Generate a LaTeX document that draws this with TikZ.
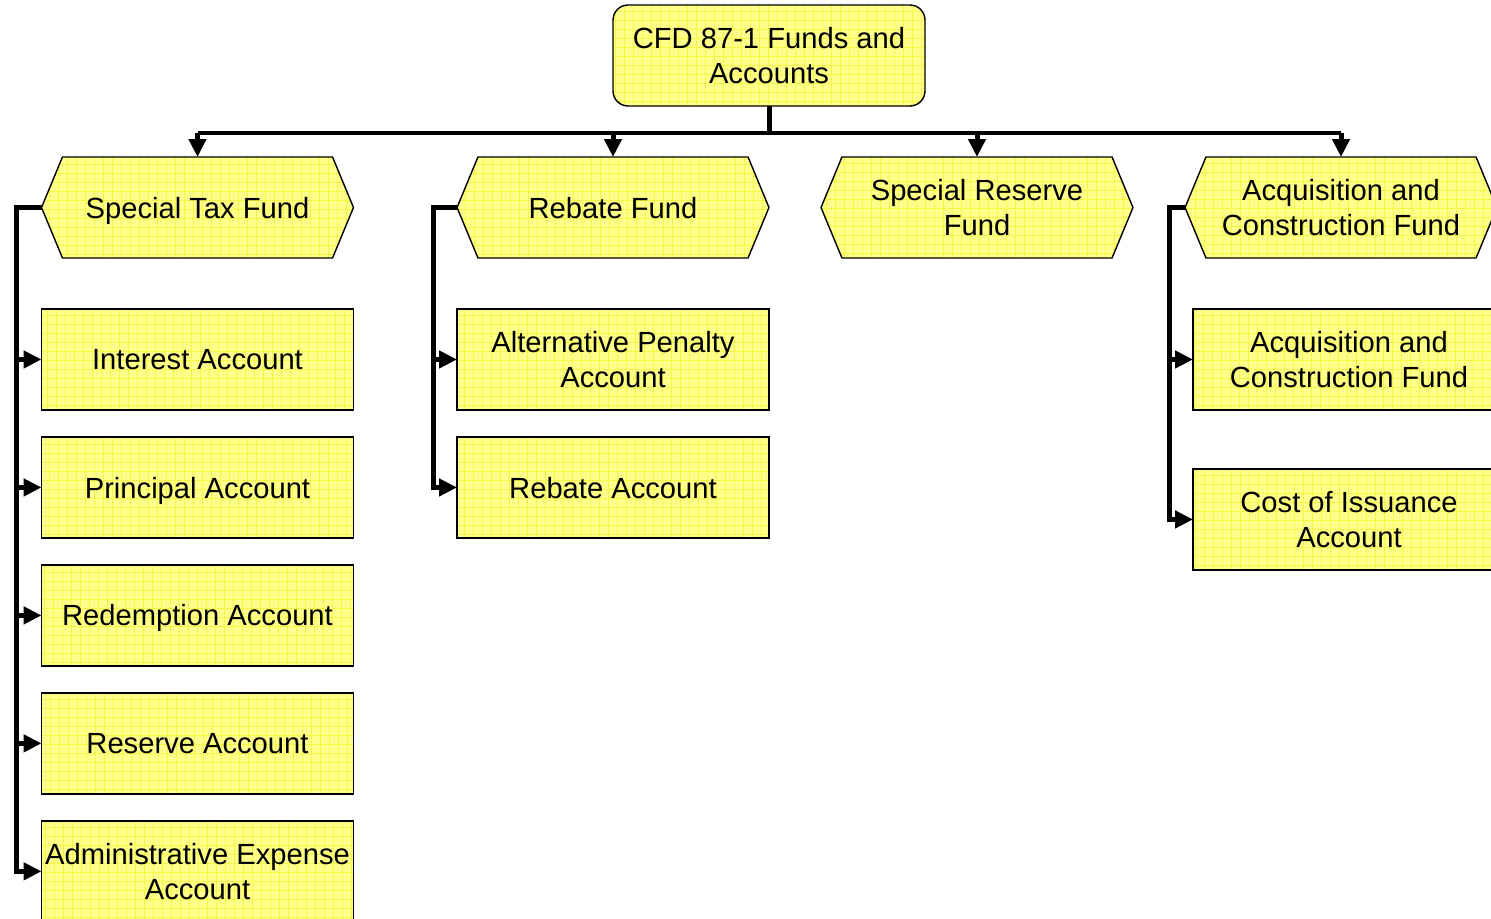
\documentclass[tikz,border=0pt]{standalone}
\usepackage{fontspec}
\setmainfont{Liberation Sans}
\usetikzlibrary{positioning,shapes.symbols,arrows.meta}
\definecolor{boxfill}{RGB}{255,255,140}
\definecolor{boxgrid}{RGB}{246,246,70}

\begin{document}
\begin{tikzpicture}[x=0.02cm, y=-0.02cm, >={Triangle[length=0.36cm,width=0.34cm]}, node distance=0.54cm]
				\tikzstyle{gridfill} = [fill=boxfill, path picture={\draw[boxgrid, line width=0.25pt] (path picture bounding box.south west) grid[step=0.18cm] (path picture bounding box.north east);}]
				\tikzstyle{box} = [draw, line width=0.8pt, gridfill, minimum width=6.24cm, minimum height=2.02cm, inner sep=1pt, outer sep=0pt, align=center, font=\fontsize{16.6}{19.9}\selectfont]
				\tikzstyle{root} = [box, rounded corners=0.3cm]
				\tikzstyle{fund} = [box, signal, signal to=east and west, signal pointer angle=135]
				\tikzstyle{account} = [box, rectangle]
				\tikzstyle{flat} = [text depth=0pt]
				\tikzstyle{link} = [line width=0.1cm]
				\path[use as bounding box, clip] (0,0) rectangle (1491,919);
				% top level
				\node[root] (root) at (769,55.5) {CFD 87-1 Funds and\\Accounts};
				\coordinate (bus) at (769,133);
				% funds
				\node[fund, flat] (stf) at (197.5,207.5) {Special Tax Fund};
				\node[fund, flat] (rf) at (613,207.5) {Rebate Fund};
				\node[fund] (srf) at (977,207.5) {Special Reserve\\Fund};
				\node[fund] (acf) at (1341,207.5) {Acquisition and\\Construction Fund};
				% accounts
				\node[account, flat, below=1.02cm of stf] (ia) {Interest Account};
				\node[account, flat, below=of ia] (pa) {Principal Account};
				\node[account, flat, below=of pa] (ra) {Redemption Account};
				\node[account, flat, below=of ra] (rsa) {Reserve Account};
				\node[account, below=of rsa] (aea) {Administrative Expense\\Account};
				\node[account, below=1.02cm of rf] (apa) {Alternative Penalty\\Account};
				\node[account, flat, below=of apa] (rba) {Rebate Account};
				\node[account, below=1.02cm of acf, xshift=0.16cm] (acq) {Acquisition and\\Construction Fund};
				\node[account, below=1.18cm of acq] (coi) {Cost of Issuance\\Account};
				% connectors
				\draw[link] (root.south) -- (bus);
				\draw[link] (stf.north |- bus) -- (acf.north |- bus);
				\foreach \f in {stf, rf, srf, acf}
					\draw[link, ->] (\f.north |- bus) -- (\f.north);
				\foreach \a in {ia, pa, ra, rsa, aea}
					\draw[link, ->] (stf.west) -- ++(-25,0) |- (\a.west);
				\foreach \a in {apa, rba}
					\draw[link, ->] (rf.west) -- ++(-24,0) |- (\a.west);
				\foreach \a in {acq, coi}
					\draw[link, ->] (acf.west) -- ++(-16,0) |- (\a.west);
			\end{tikzpicture}
\end{document}
